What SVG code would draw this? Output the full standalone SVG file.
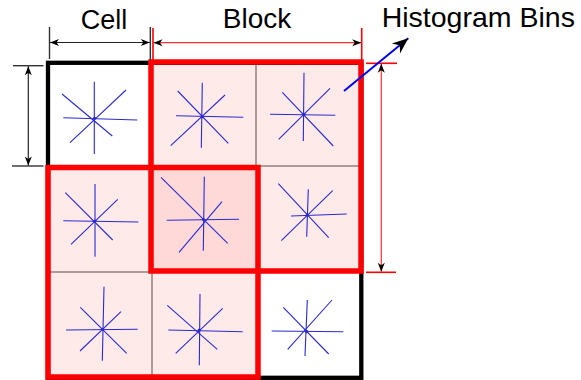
<svg xmlns="http://www.w3.org/2000/svg" width="581" height="380" viewBox="0 0 581 380">
<defs>
<style>
.thin{stroke:#5a4848;stroke-width:1;fill:none}
.star line{stroke:#2a2ad0;stroke-width:1.1}
.star circle{fill:#2a2ad0}
.blk{fill:none;stroke:#ff0000;stroke-width:5.5}
.dimk{stroke:#222;stroke-width:1.2;fill:none}
.dimr{stroke:#ff3030;stroke-width:1.2;fill:none}
.extk{stroke:#333;stroke-width:1.4}
.extr{stroke:#ff0000;stroke-width:1.6}
text{font-family:"Liberation Sans",Arial,sans-serif;fill:#000}
</style>
<marker id="ah" markerUnits="userSpaceOnUse" markerWidth="12" markerHeight="10" viewBox="-10 -5 12 10" refX="0" refY="0" orient="auto-start-reverse">
<path d="M0,0 L-9,-3.5 L-6.5,0 L-9,3.5 Z" fill="#000"/>
</marker>
<marker id="big" markerUnits="userSpaceOnUse" markerWidth="20" markerHeight="16" viewBox="-18 -8 20 16" refX="0" refY="0" orient="auto">
<path d="M0,0 L-16,-6.5 L-11,0 L-16,6.5 Z" fill="#000"/>
</marker>
</defs>
<rect width="581" height="380" fill="#fff"/>

<g id="fills">
<rect x="151" y="62" width="210" height="209" fill="#ffeaea"/>
<rect x="48" y="167.5" width="210" height="209.5" fill="#ffeaea"/>
<rect x="151" y="167.5" width="107" height="103.5" fill="#ffd8d8"/>
</g>

<g id="grid">
<line class="thin" x1="256" y1="62" x2="256" y2="166"/>
<line class="thin" x1="256" y1="166" x2="361" y2="166"/>
<line class="thin" x1="48" y1="272" x2="152" y2="272"/>
<line class="thin" x1="152" y1="272" x2="152" y2="377"/>
</g>

<g id="cell-0-0" class="star">
<line x1="94.3" y1="81.7" x2="94.3" y2="154"/>
<line x1="63.3" y1="117.7" x2="137.3" y2="120"/>
<line x1="126" y1="90" x2="70" y2="142.7"/>
<line x1="62" y1="94" x2="112.3" y2="136"/>
<circle cx="94.5" cy="118.3" r="1.6"/>
</g>
<g id="cell-0-1" class="star">
<line x1="202.3" y1="82.7" x2="201.3" y2="147.7"/>
<line x1="176" y1="115.7" x2="243.3" y2="117.3"/>
<line x1="225" y1="95" x2="170.7" y2="145.7"/>
<line x1="177.7" y1="91" x2="228.3" y2="143.3"/>
<circle cx="202.3" cy="116.7" r="1.6"/>
</g>
<g id="cell-0-2" class="star">
<line x1="304" y1="72.7" x2="303.3" y2="141"/>
<line x1="270" y1="114.3" x2="335.3" y2="115.3"/>
<line x1="330" y1="88.3" x2="278.7" y2="139.3"/>
<line x1="282.3" y1="92.3" x2="333.3" y2="146"/>
<circle cx="304" cy="114.3" r="1.6"/>
</g>
<g id="cell-1-0" class="star">
<line x1="95" y1="184" x2="95" y2="256.7"/>
<line x1="63.3" y1="220.7" x2="138.3" y2="222"/>
<line x1="117.7" y1="199.3" x2="71" y2="244.3"/>
<line x1="65.3" y1="192.7" x2="112.7" y2="240"/>
<circle cx="95" cy="221" r="1.6"/>
</g>
<g id="cell-1-1" class="star">
<line x1="204.3" y1="176.7" x2="203.3" y2="250.7"/>
<line x1="166.7" y1="220.3" x2="239" y2="219.3"/>
<line x1="222" y1="201.7" x2="179" y2="252.3"/>
<line x1="161" y1="177.3" x2="227.7" y2="243.3"/>
<circle cx="203.5" cy="219.5" r="1.6"/>
</g>
<g id="cell-1-2" class="star">
<line x1="308.3" y1="189.3" x2="306.7" y2="236.7"/>
<line x1="291" y1="216" x2="346.7" y2="214"/>
<line x1="332.7" y1="190.7" x2="281.3" y2="240.7"/>
<line x1="278.3" y1="183.7" x2="328.7" y2="237.7"/>
<circle cx="307.3" cy="215" r="1.6"/>
</g>
<g id="cell-2-0" class="star">
<line x1="104" y1="286.7" x2="102.3" y2="360.7"/>
<line x1="66" y1="330" x2="137.7" y2="329.3"/>
<line x1="121" y1="311.7" x2="80" y2="351"/>
<line x1="80.3" y1="307.3" x2="126.7" y2="353.3"/>
<circle cx="102.7" cy="329.3" r="1.6"/>
</g>
<g id="cell-2-1" class="star">
<line x1="200" y1="294" x2="199.3" y2="365.3"/>
<line x1="168.3" y1="330" x2="242.7" y2="331.7"/>
<line x1="222.7" y1="308.3" x2="175.7" y2="353.3"/>
<line x1="167.3" y1="305.3" x2="217.3" y2="349.3"/>
<circle cx="199.3" cy="330" r="1.6"/>
</g>
<g id="cell-2-2" class="star">
<line x1="307.3" y1="300" x2="305" y2="356"/>
<line x1="271.7" y1="331" x2="343.3" y2="331.7"/>
<line x1="332" y1="300" x2="287.7" y2="349.3"/>
<line x1="283.3" y1="307.3" x2="328.7" y2="354"/>
<circle cx="306.7" cy="331.7" r="1.6"/>
</g>

<g id="outer">
<rect x="48" y="62.8" width="313.3" height="315" fill="none" stroke="#000" stroke-width="4.3"/>
</g>

<g id="blocks">
<rect class="blk" x="151" y="62" width="210" height="209"/>
<rect class="blk" x="48" y="167.5" width="210" height="209.5"/>
</g>

<g id="connectors">
<line class="extk" x1="49.5" y1="27" x2="49.5" y2="59"/>
<line class="extk" x1="150.3" y1="27" x2="150.3" y2="60"/>
<line class="extr" x1="153" y1="28" x2="153" y2="60"/>
<line class="extr" x1="361.7" y1="28" x2="361.7" y2="60"/>
<line class="dimk" x1="50" y1="42.5" x2="149.8" y2="42.5" marker-start="url(#ah)" marker-end="url(#ah)"/>
<line class="dimr" x1="153.5" y1="42.7" x2="361.2" y2="42.7" marker-start="url(#ah)" marker-end="url(#ah)"/>

<line class="extk" x1="13" y1="65.7" x2="43.5" y2="65.7"/>
<line class="extk" x1="12" y1="166" x2="43.5" y2="166"/>
<line class="dimk" x1="28.3" y1="66.2" x2="28.3" y2="165.5" marker-start="url(#ah)" marker-end="url(#ah)"/>

<line class="extr" x1="366" y1="63.3" x2="397" y2="63.3"/>
<line class="extr" x1="366" y1="272.3" x2="396" y2="272.3"/>
<line class="dimr" x1="381.3" y1="63.8" x2="381.3" y2="271.8" marker-start="url(#ah)" marker-end="url(#ah)"/>

<line x1="344" y1="91" x2="408.3" y2="38.3" stroke="#0000ee" stroke-width="2" marker-end="url(#big)"/>
</g>

<g id="labels">
<text x="104" y="29.3" font-size="27" text-anchor="middle">Cell</text>
<text x="257" y="28.3" font-size="28" text-anchor="middle">Block</text>
<text x="381.7" y="26.7" font-size="28.5">Histogram Bins</text>
</g>
</svg>
